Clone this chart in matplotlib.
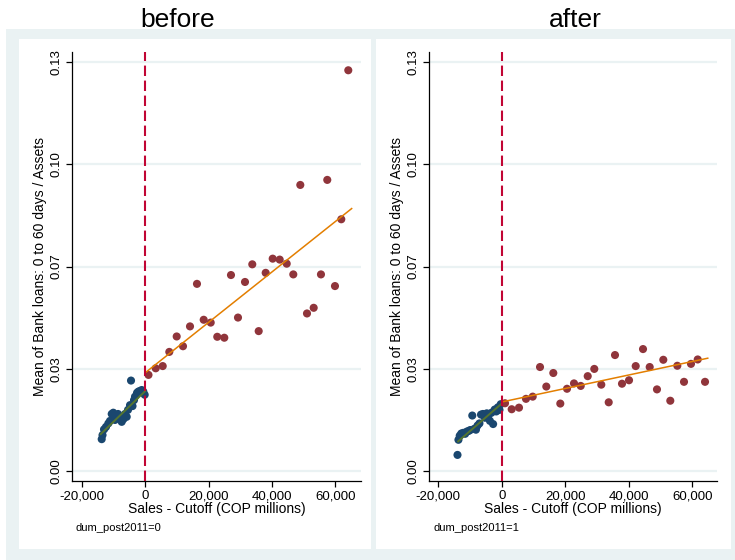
import matplotlib
matplotlib.use("Agg")
import matplotlib.pyplot as plt
from matplotlib.patches import Rectangle
from matplotlib.ticker import FuncFormatter

plt.rcParams['font.family'] = ['Liberation Sans', 'DejaVu Sans']

# binned means, before (dum_post2011=0)
before_left_x = [-13760, -13500, -13030, -12400, -11670, -11140, -10600, -10100, -9720, -9560,
                 -9240, -8610, -7980, -7450, -6880, -6400, -5870, -5460, -4830, -4510,
                 -4040, -3570, -3250, -2620, -2210, -1670, -1140, -630, -200]
before_left_y = [0.0102, 0.0115, 0.0133, 0.0141, 0.0152, 0.0160, 0.0182, 0.0186, 0.0179, 0.0163,
                 0.0172, 0.0182, 0.0169, 0.0157, 0.0166, 0.0182, 0.0173, 0.0195, 0.0210, 0.0288,
                 0.0207, 0.0226, 0.0237, 0.0249, 0.0253, 0.0255, 0.0258, 0.0253, 0.0243]
before_right_x = [1000, 3280, 5490, 7570, 9900, 11890, 14100, 16300, 18420, 20630,
                  22700, 24920, 27030, 29240, 31450, 33750, 35770, 37980, 40190, 42400,
                  44610, 46690, 48900, 51010, 53120, 55420, 57410, 59840, 61830, 64040]
before_right_y = [0.0306, 0.0327, 0.0334, 0.0379, 0.0428, 0.0397, 0.0460, 0.0595, 0.0481, 0.0472,
                  0.0427, 0.0424, 0.0623, 0.0488, 0.0601, 0.0657, 0.0445, 0.0630, 0.0675, 0.0672,
                  0.0659, 0.0625, 0.0909, 0.0501, 0.0519, 0.0625, 0.0925, 0.0588, 0.0800, 0.1273]

# binned means, after (dum_post2011=1)
after_left_x = [-13900, -13600, -13200, -12700, -12100, -11500, -11000, -10400, -9900, -9250,
                -8600, -8100, -7600, -7000, -6500, -5900, -5300, -4700, -4200, -3700,
                -3200, -2700, -2200, -1700, -1200, -700, -300]
after_left_y = [0.0052, 0.0100, 0.0113, 0.0120, 0.0122, 0.0119, 0.0126, 0.0128, 0.0131, 0.0177,
                0.0135, 0.0132, 0.0145, 0.0152, 0.0180, 0.0182, 0.0170, 0.0184, 0.0176, 0.0160,
                0.0186, 0.0150, 0.0196, 0.0190, 0.0203, 0.0195, 0.0213]
after_right_x = [1040, 3140, 5440, 7640, 9750, 12050, 14030, 16230, 18430, 20540,
                 22740, 24850, 27050, 29120, 31320, 33650, 35630, 37830, 40040, 42140,
                 44440, 46540, 48830, 50820, 53020, 55230, 57330, 59530, 61640, 63940]
after_right_y = [0.0216, 0.0197, 0.0202, 0.0230, 0.0237, 0.0331, 0.0269, 0.0312, 0.0215, 0.0262,
                 0.0279, 0.0271, 0.0302, 0.0325, 0.0275, 0.0219, 0.0369, 0.0278, 0.0289, 0.0334,
                 0.0388, 0.0331, 0.0260, 0.0354, 0.0224, 0.0335, 0.0284, 0.0341, 0.0355, 0.0284]

# linear fits (end points)
before_fit_left = ([-14070, 0], [0.0118, 0.0255])
before_fit_right = ([0, 65100], [0.0313, 0.0834])
after_fit_left = ([-13700, 0], [0.0095, 0.0215])
after_fit_right = ([0, 64800], [0.0220, 0.0359])

panels = [
    ("before", "dum_post2011=0", before_left_x, before_left_y, before_right_x, before_right_y,
     before_fit_left, before_fit_right),
    ("after", "dum_post2011=1", after_left_x, after_left_y, after_right_x, after_right_y,
     after_fit_left, after_fit_right),
]

y_ticks = [0, 0.0325, 0.065, 0.0975, 0.13]
y_tick_labels = ['0.00', '0.03', '0.07', '0.10', '0.13']
x_ticks = [-20000, 0, 20000, 40000, 60000]

W, H = 735, 560
navy = (26/255, 71/255, 111/255)
maroon = (144/255, 53/255, 59/255)
green = (85/255, 117/255, 47/255)
orange = (227/255, 126/255, 0/255)
cranberry = (193/255, 5/255, 52/255)
bg = (234/255, 242/255, 243/255)

fig = plt.figure(figsize=(W/100, H/100), dpi=100)
fig.patch.set_facecolor('white')


def fx(px):
    return px / W


def fy(py):
    return 1 - py / H


# graph regions
fig.patches.append(Rectangle((fx(6), fy(560)), fx(729), 531/H, transform=fig.transFigure,
                             facecolor=bg, edgecolor='none', zorder=-10))
for x0, x1 in [(19, 370.5), (376, 731)]:
    fig.patches.append(Rectangle((fx(x0), fy(549)), fx(x1 - x0), 510/H, transform=fig.transFigure,
                                 facecolor='white', edgecolor='none', zorder=-9))

axes_px = [(72, 361, -23130, 68050, 178), (429, 717.3, -22860, 67800, 575)]

for (title, note, lx, ly, rx, ry, fl, fr), (a0, a1, xmin, xmax, tx) in zip(panels, axes_px):
    ax = fig.add_axes([fx(a0), fy(481), fx(a1 - a0), (481 - 52)/H])
    ax.set_zorder(1)
    ax.set_facecolor('none')
    ax.set_xlim(xmin, xmax)
    ax.set_ylim(-0.00308, 0.1331)
    for s in ['top', 'right']:
        ax.spines[s].set_visible(False)
    for s in ['left', 'bottom']:
        ax.spines[s].set_color('black')
        ax.spines[s].set_linewidth(0.9)

    for t in y_ticks:
        ax.axhline(t, color=bg, lw=1.6, zorder=1)

    ax.scatter(lx, ly, s=34, color=navy, edgecolors='none', zorder=3)
    ax.scatter(rx, ry, s=34, color=maroon, edgecolors='none', zorder=3)
    ax.plot(fl[0], fl[1], color=green, lw=1.4, zorder=4)
    ax.plot(fr[0], fr[1], color=orange, lw=1.1, zorder=4)
    ax.axvline(0, color=cranberry, lw=1.5, dashes=(5, 2.2), zorder=5)

    ax.set_yticks(y_ticks)
    ax.set_yticklabels(y_tick_labels, rotation=90, va='center')
    ax.set_xticks(x_ticks)
    ax.xaxis.set_major_formatter(FuncFormatter(lambda v, p: f'{int(v):,}'))
    ax.tick_params(axis='both', direction='out', length=4, width=0.9, labelsize=9.5,
                   colors='black', pad=2.5)
    ax.set_xlabel('Sales - Cutoff (COP millions)', fontsize=10, labelpad=0)
    ax.set_ylabel('Mean of Bank loans: 0 to 60 days / Assets', fontsize=10, labelpad=3)

    fig.text(fx(tx), fy(27), title, fontsize=19, ha='center', va='baseline')
    fig.text(fx(a0 + 4), fy(528), note, fontsize=8, ha='left', va='center')

fig.savefig('out.png', dpi=100)
